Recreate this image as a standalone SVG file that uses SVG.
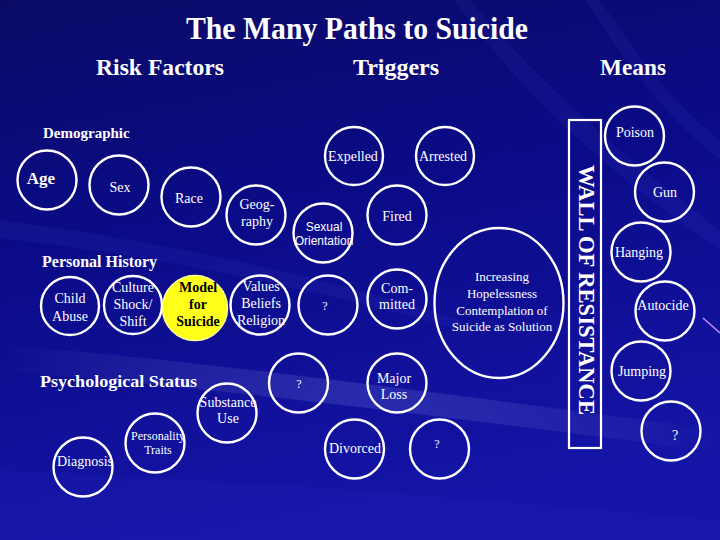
<svg xmlns="http://www.w3.org/2000/svg" width="720" height="540" viewBox="0 0 720 540" font-family="'Liberation Serif', 'Times New Roman', serif">
<defs>
<linearGradient id="bg" x1="0" y1="0" x2="0.25" y2="1">
<stop offset="0" stop-color="#0a0a66"/>
<stop offset="0.45" stop-color="#0b0b88"/>
<stop offset="1" stop-color="#1414a6"/>
</linearGradient>
<linearGradient id="streak" x1="0" y1="0" x2="1" y2="0">
<stop offset="0" stop-color="#ffffff" stop-opacity="0"/>
<stop offset="0.5" stop-color="#8fa0ff" stop-opacity="0.18"/>
<stop offset="1" stop-color="#ffffff" stop-opacity="0"/>
</linearGradient>
<style>
.n{fill:none;stroke:#ffffff;stroke-width:2.4}
text{font-family:'Liberation Serif','Times New Roman',serif}
.t{fill:#ffffff;font-size:14px;text-anchor:middle}
.sm{font-size:13px}
.xs{font-size:12px}
.h{fill:#ffffff;font-weight:bold}
text.sans{font-family:'Liberation Sans',Arial,sans-serif;font-size:12px}
</style>
</defs>
<rect width="720" height="540" fill="url(#bg)"/>
<g id="background-streaks">
<path d="M0,345 C200,360 450,395 720,430 L720,452 C450,418 200,385 0,372 Z" fill="url(#streak)"/>
<path d="M0,220 C150,240 300,270 460,320 L460,330 C300,285 150,255 0,238 Z" fill="#6070ff" opacity="0.07"/>
<path d="M470,0 C520,60 600,140 720,230 L720,250 C590,160 510,80 455,0 Z" fill="#6070ff" opacity="0.07"/>
<path d="M600,0 C640,60 680,110 720,140 L720,160 C670,120 630,70 585,0 Z" fill="#6070ff" opacity="0.07"/>
<path d="M0,470 C250,480 500,500 720,520 L720,540 L0,540 Z" fill="#2020b8" opacity="0.25"/>
<line x1="703" y1="318" x2="720" y2="333" stroke="#c98cff" stroke-width="1.5"/>
</g>

<g id="headings">
<text class="h" x="357" y="39" font-size="31" text-anchor="middle" textLength="342" lengthAdjust="spacingAndGlyphs">The Many Paths to Suicide</text>
<text class="h" x="160" y="75" font-size="23" text-anchor="middle" textLength="128" lengthAdjust="spacingAndGlyphs">Risk Factors</text>
<text class="h" x="396" y="75" font-size="23" text-anchor="middle" textLength="86" lengthAdjust="spacingAndGlyphs">Triggers</text>
<text class="h" x="633" y="75" font-size="23" text-anchor="middle" textLength="66" lengthAdjust="spacingAndGlyphs">Means</text>
<text class="h" x="43" y="138" font-size="15">Demographic</text>
<text class="h" x="42" y="267" font-size="16">Personal History</text>
<text class="h" x="40" y="387" font-size="16.5" textLength="157" lengthAdjust="spacingAndGlyphs">Psychological Status</text>
</g>

<g id="connectors"></g>

<g id="age"><circle class="n" cx="47" cy="180" r="29.5"/><text class="h" x="41" y="184" font-size="17" text-anchor="middle">Age</text></g>
<g id="sex"><circle class="n" cx="119" cy="185" r="29.5"/><text class="t" x="120" y="192">Sex</text></g>
<g id="race"><circle class="n" cx="191" cy="197" r="29.5"/><text class="t" x="189" y="203">Race</text></g>
<g id="geography"><circle class="n" cx="256" cy="215" r="29.5"/><text class="t" x="257" y="209">Geog-</text><text class="t" x="257" y="226">raphy</text></g>

<g id="child-abuse"><circle class="n" cx="70" cy="306" r="29"/><text class="t" x="70" y="303">Child</text><text class="t" x="70" y="321">Abuse</text></g>
<g id="culture-shock"><circle class="n" cx="133" cy="305" r="29"/><text class="t" x="133" y="292">Culture</text><text class="t" x="133" y="309">Shock/</text><text class="t" x="133" y="326">Shift</text></g>
<g id="model-for-suicide"><circle cx="195" cy="308" r="32.5" fill="#ffff1a" stroke="#ffff99" stroke-width="1.5"/><text class="h" x="198" y="292" font-size="14" text-anchor="middle" style="fill:#000000">Model</text><text class="h" x="198" y="309" font-size="14" text-anchor="middle" style="fill:#000000">for</text><text class="h" x="198" y="326" font-size="14" text-anchor="middle" style="fill:#000000">Suicide</text></g>
<g id="values"><circle class="n" cx="260" cy="305" r="29.5"/><text class="t" x="261" y="291">Values</text><text class="t" x="261" y="308">Beliefs</text><text class="t" x="261" y="325">Religion</text></g>

<g id="substance-use"><circle class="n" cx="227" cy="413" r="29.5"/><text class="t" x="228" y="407">Substance</text><text class="t" x="228" y="423">Use</text></g>
<g id="personality-traits"><circle class="n" cx="155" cy="443" r="29.5"/><text class="t xs" x="158" y="440">Personality</text><text class="t xs" x="158" y="454">Traits</text></g>
<g id="diagnosis"><circle class="n" cx="83" cy="467" r="29.5"/><text class="t" x="85" y="466">Diagnosis</text></g>

<g id="expelled"><circle class="n" cx="354" cy="156" r="29"/><text class="t" x="353" y="161">Expelled</text></g>
<g id="arrested"><circle class="n" cx="445" cy="156" r="29"/><text class="t" x="443" y="161">Arrested</text></g>
<g id="fired"><circle class="n" cx="397" cy="215" r="29.5"/><text class="t" x="397" y="221">Fired</text></g>
<g id="sexual-orientation"><circle class="n" cx="323" cy="233" r="29.5"/><text class="t sans" x="324" y="231">Sexual</text><text class="t sans" x="324" y="245">Orientation</text></g>
<g id="q1"><circle class="n" cx="328" cy="305" r="29.5"/><text class="t xs" x="325" y="310">?</text></g>
<g id="committed"><circle class="n" cx="397" cy="299" r="29.5"/><text class="t" x="397" y="293">Com-</text><text class="t" x="397" y="309">mitted</text></g>
<g id="hopelessness"><ellipse class="n" cx="499" cy="303" rx="64.5" ry="75"/><text class="t sm" x="502" y="281">Increasing</text><text class="t sm" x="502" y="298">Hopelessness</text><text class="t sm" x="502" y="315">Contemplation of</text><text class="t sm" x="502" y="331">Suicide as Solution</text></g>
<g id="q2"><circle class="n" cx="298.5" cy="383" r="29.5"/><text class="t xs" x="299" y="388">?</text></g>
<g id="major-loss"><circle class="n" cx="397" cy="383" r="29.5"/><text class="t" x="394" y="383">Major</text><text class="t" x="394" y="399">Loss</text></g>
<g id="divorced"><circle class="n" cx="354.5" cy="449" r="29.5"/><text class="t" x="355" y="453">Divorced</text></g>
<g id="q3"><circle class="n" cx="439.5" cy="449" r="29.5"/><text class="t xs" x="437" y="448">?</text></g>

<g id="wall-of-resistance">
<rect x="569" y="120" width="32" height="328" fill="none" stroke="#ffffff" stroke-width="2.2"/>
<text class="h" transform="translate(579,290) rotate(90)" x="0" y="0" font-size="23" text-anchor="middle" textLength="250" lengthAdjust="spacingAndGlyphs">WALL OF RESISTANCE</text>
</g>

<g id="poison"><circle class="n" cx="634.5" cy="136" r="29.5"/><text class="t" x="635" y="137">Poison</text></g>
<g id="gun"><circle class="n" cx="664.5" cy="192" r="29.5"/><text class="t" x="665" y="197">Gun</text></g>
<g id="hanging"><circle class="n" cx="641" cy="252" r="29.5"/><text class="t" x="639" y="257">Hanging</text></g>
<g id="autocide"><circle class="n" cx="665" cy="311" r="29.5"/><text class="t" x="663" y="310">Autocide</text></g>
<g id="jumping"><circle class="n" cx="641" cy="371" r="29.5"/><text class="t" x="642" y="376">Jumping</text></g>
<g id="q4"><circle class="n" cx="671" cy="431" r="29.5"/><text class="t" x="675" y="440">?</text></g>
</svg>
